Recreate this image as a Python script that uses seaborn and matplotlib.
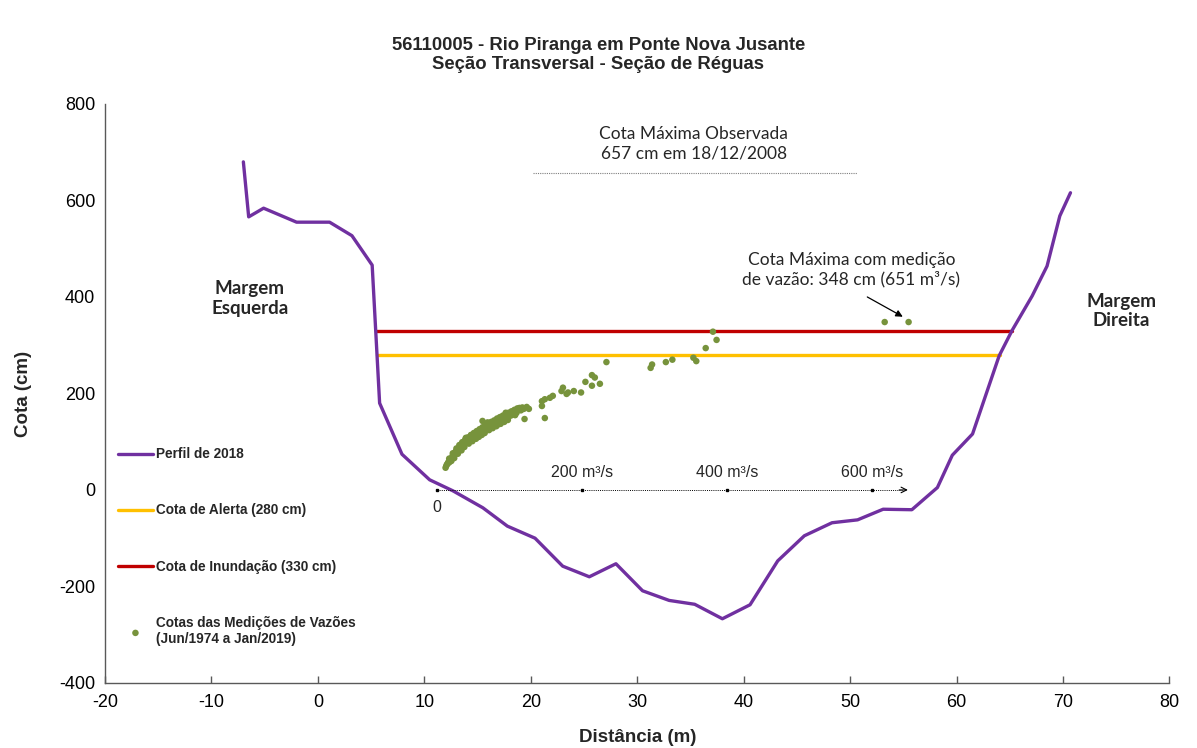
import numpy as np
import pandas as pd
import matplotlib
matplotlib.use('Agg')
import matplotlib.pyplot as plt
import seaborn as sns

# perfil transversal de 2018
dist_m = [-7.0, -6.5, -5.1, -2.0, 1.1, 3.2, 5.1, 5.8, 7.9, 10.5, 12.7, 15.5, 17.8, 20.4,
          23.0, 25.5, 28.0, 30.5, 33.0, 35.4, 38.0, 40.6, 43.2, 45.7, 48.3, 50.7, 53.1,
          55.8, 58.2, 59.6, 61.5, 64.0, 65.2, 67.1, 68.5, 69.7, 70.7]
cota_cm = [680, 566, 584, 555, 555, 527, 466, 180, 74, 21, -2, -37, -75, -100,
           -158, -180, -153, -209, -229, -237, -267, -238, -147, -95, -68, -62, -40,
           -41, 5, 72, 116, 278, 330, 402, 464, 568, 616]

cota_alerta = 280
cota_inundacao = 330
cota_max_obs = 657

# medicoes de vazao: vazao (m3/s) x cota (cm)
vazao = [12, 13, 14, 15, 16, 17, 18, 19, 20, 21, 22, 23, 24, 25, 26, 27, 28, 29, 30, 31,
         32, 33, 34, 35, 36, 37, 38, 39, 40, 41, 42, 43, 44, 45, 46, 47, 48, 49, 50, 51,
         52, 53, 54, 55, 56, 57, 58, 59, 60, 61, 62, 63, 64, 65, 66, 67, 68, 69, 70, 71,
         72, 73, 74, 75, 76, 77, 78, 80, 81, 82, 84, 85, 86, 88, 90, 91, 92, 94, 96, 98,
         100, 102, 104, 106, 108, 110, 112, 114, 116, 118, 120, 121, 124, 127, 63, 40, 50, 70,
         85, 95, 30, 20, 108,
         17, 22, 27, 31, 35, 39, 43, 47, 51, 55, 59, 63, 67, 71, 75, 79, 83, 87, 91, 95,
         99, 103, 107, 111, 24, 29, 34, 38, 44, 49, 54, 58, 62, 66, 72, 77, 82, 88, 93, 98,
         145, 145, 149, 156, 160, 149, 172, 174, 179, 181, 189, 199, 205, 214, 218, 214, 225,
         234, 295, 297, 316, 325, 354, 358, 371, 386, 381, 618, 651]
cota_med = [46, 50, 53, 55, 58, 57, 62, 64, 66, 65, 72, 70, 76, 75, 80, 78, 84, 82, 87, 85,
            90, 88, 93, 91, 96, 94, 99, 97, 101, 99, 104, 102, 106, 104, 109, 106, 111, 108, 113, 110,
            115, 112, 118, 115, 120, 117, 122, 119, 124, 121, 126, 123, 128, 125, 130, 127, 131, 128, 133, 130,
            135, 132, 137, 133, 138, 135, 140, 137, 142, 139, 145, 141, 147, 144, 150, 146, 152, 148, 155, 151,
            158, 154, 161, 157, 164, 160, 167, 170, 165, 171, 168, 147, 172, 168, 143, 108, 105, 140,
            136, 160, 80, 60, 155,
            65, 76, 86, 93, 99, 104, 109, 114, 118, 122, 126, 130, 133, 137, 141, 144, 148, 151, 154, 157,
            160, 163, 166, 169, 66, 75, 82, 89, 96, 101, 106, 110, 114, 118, 124, 128, 132, 137, 141, 145,
            174, 184, 188, 191, 195, 149, 205, 212, 199, 202, 205, 202, 224, 238, 233, 216, 220,
            265, 253, 260, 265, 270, 274, 267, 294, 311, 328, 348, 348]

vazao_ticks = [0, 200, 400, 600]
vazao_eixo_fim = 650

sns.set_style('white')
plt.rcParams['font.family'] = ['Liberation Sans', 'DejaVu Sans']
plt.rcParams['axes.unicode_minus'] = False

roxo = '#7030A0'
amarelo = '#FFC000'
vermelho = '#C00000'
verde = '#77933C'
cinza = '#595959'
texto = '#262626'

fig, ax = plt.subplots(figsize=(11.97, 7.48), dpi=100)
fig.subplots_adjust(left=0.0877, right=0.977, bottom=0.087, top=0.861)

perfil = pd.DataFrame({'dist': dist_m, 'cota': cota_cm})
sns.lineplot(data=perfil, x='dist', y='cota', sort=False, estimator=None, color=roxo,
             lw=2.4, ax=ax, label='Perfil de 2018', zorder=4)


def cruzamento(nivel):
    esq = perfil.iloc[6:8]
    dire = perfil.iloc[28:]
    x0 = np.interp(nivel, esq.cota.values[::-1], esq.dist.values[::-1])
    x1 = np.interp(nivel, dire.cota.values, dire.dist.values)
    return x0, x1


xa = cruzamento(cota_alerta)
xi = cruzamento(cota_inundacao)
ax.plot(xa, [cota_alerta] * 2, color=amarelo, lw=2.4, label='Cota de Alerta (280 cm)', zorder=3)
ax.plot(xi, [cota_inundacao] * 2, color=vermelho, lw=2.4, label='Cota de Inundação (330 cm)', zorder=3)

# cota maxima observada
ax.plot([20.2, 50.6], [cota_max_obs] * 2, ls=(0, (1, 1)), color='#7f7f7f', lw=0.8)
ax.text(35.3, 717, f'Cota Máxima Observada\n{cota_max_obs} cm em 18/12/2008', ha='center',
        va='center', fontsize=12.5, family=['Lato', 'DejaVu Sans'], color=texto, linespacing=1.25)

ax.text(-6.4, 396, 'Margem\nEsquerda', ha='center', va='center', fontsize=13.5,
        fontweight='bold', family=['Lato', 'DejaVu Sans'], color=texto, linespacing=1.2)
ax.text(75.5, 371, 'Margem\nDireita', ha='center', va='center', fontsize=13.5,
        fontweight='bold', family=['Lato', 'DejaVu Sans'], color=texto, linespacing=1.2)

ax.set_xlim(-20, 80)
ax.set_ylim(-400, 800)
ax.set_xticks(range(-20, 81, 10))
ax.set_yticks(range(-400, 801, 200))
ax.tick_params(axis='both', labelsize=13, colors='black')
ax.tick_params(axis='x', direction='in', length=5, width=1, color=cinza, pad=8)
ax.tick_params(axis='y', direction='out', length=4, width=1, color=cinza, pad=3)
for s in ['top', 'right']:
    ax.spines[s].set_visible(False)
for s in ['left', 'bottom']:
    ax.spines[s].set_color(cinza)
    ax.spines[s].set_linewidth(1)

ax.set_xlabel('Distância (m)', fontsize=13.5, fontweight='bold')
ax.set_ylabel('Cota (cm)', fontsize=13.5, fontweight='bold')
ax.xaxis.set_label_coords(0.5, -0.08)
ax.yaxis.set_label_coords(-0.069, 0.5)

# eixo secundario de vazao
ax2 = ax.twiny()
sns.scatterplot(x=vazao, y=cota_med, ax=ax2, color=verde, s=22, edgecolor='none',
                label='Cotas das Medições de Vazões\n(Jun/1974 a Jan/2019)', zorder=5)
ax2.set_xlim(-458, 1011)
ax2.set(xlabel='', ylabel='')
ax2.xaxis.set_visible(False)
for s in ax2.spines.values():
    s.set_visible(False)

ax2.plot([0, vazao_eixo_fim - 8], [0, 0], ls=(0, (1, 1.2)), color='black', lw=0.7)
ax2.plot(vazao_ticks, [0] * len(vazao_ticks), 's', ms=2, color='black')
ax2.annotate('', xy=(vazao_eixo_fim, 0), xytext=(vazao_eixo_fim - 12, 0),
             arrowprops=dict(arrowstyle='->', lw=0.8, color='black', shrinkA=0, shrinkB=0))
for q in vazao_ticks:
    if q == 0:
        ax2.annotate('0', (q, 0), xytext=(0, -7), textcoords='offset points', ha='center',
                     va='top', fontsize=11.5, color=texto)
    else:
        ax2.annotate(f'{q} m³/s', (q, 0), xytext=(0, 7), textcoords='offset points',
                     ha='center', va='bottom', fontsize=11.5, color=texto)

i_max = int(np.argmax(vazao))
q_max, h_max = vazao[i_max], cota_med[i_max]
ax2.text(572, 456, f'Cota Máxima com medição\nde vazão: {h_max} cm ({q_max} m³/s)', ha='center',
         va='center', fontsize=12.5, family=['Lato', 'DejaVu Sans'], color=texto, linespacing=1.25)
ax2.annotate('', xy=(q_max - 8, h_max + 11), xytext=(594, 400),
             arrowprops=dict(arrowstyle='-|>', mutation_scale=10, lw=0.9, color='black',
                             shrinkA=0, shrinkB=0))

# legenda
h1, l1 = ax.get_legend_handles_labels()
h2, l2 = ax2.get_legend_handles_labels()
if ax.get_legend():
    ax.get_legend().remove()
if ax2.get_legend():
    ax2.get_legend().remove()
leg = ax2.legend(h1 + h2, l1 + l2, loc='upper left', bbox_to_anchor=(0.012, 0.407),
                 borderaxespad=0, borderpad=0, frameon=False, labelspacing=3.1,
                 handlelength=2.6, handletextpad=0.2, prop={'weight': 'bold', 'size': 9.8})

fig.suptitle('56110005 - Rio Piranga em Ponte Nova Jusante\nSeção Transversal - Seção de Réguas',
             fontsize=13.3, fontweight='bold', y=0.951, va='top', linespacing=1.15)

fig.savefig('out.png', dpi=100)
